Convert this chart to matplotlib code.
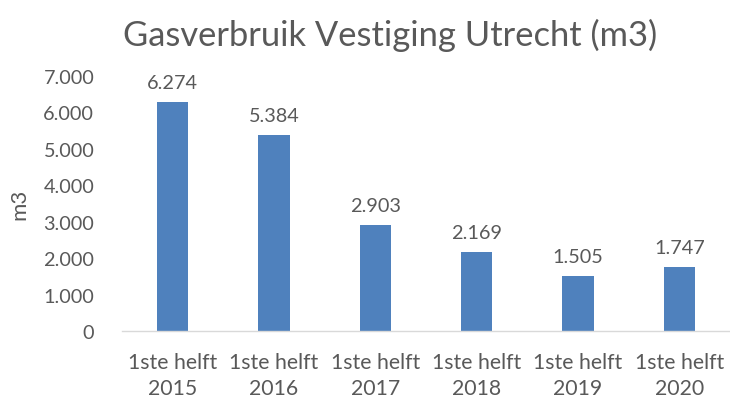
import matplotlib
import matplotlib.pyplot as plt

matplotlib.use("Agg")

CATEGORIES = ["1ste helft\n2015", "1ste helft\n2016", "1ste helft\n2017",
              "1ste helft\n2018", "1ste helft\n2019", "1ste helft\n2020"]
VALUES = [6274, 5384, 2903, 2169, 1505, 1747]
Y_TICKS = [0, 1000, 2000, 3000, 4000, 5000, 6000, 7000]

TEXT_COLOR = "#595959"
BAR_COLOR = "#4F81BD"


def fmt(v):
    return f"{v:,}".replace(",", ".")


def main():
    plt.rcParams["font.family"] = ["Lato", "DejaVu Sans"]
    fig = plt.figure(figsize=(7.3, 4.02), dpi=100)
    W, H = 730, 402
    left, right, bottom, top = 122, 730, 332, 77
    ax = fig.add_axes([left / W, 1 - bottom / H, (right - left) / W, (bottom - top) / H])

    x = range(len(CATEGORIES))
    bars = ax.bar(x, VALUES, width=0.31, color=BAR_COLOR, zorder=2)
    ax.set_xlim(-0.5, len(CATEGORIES) - 0.5)
    ax.set_ylim(0, 7000)

    for rect, v in zip(bars, VALUES):
        ax.annotate(fmt(v), (rect.get_x() + rect.get_width() / 2, v),
                    xytext=(0, 8), textcoords="offset points",
                    ha="center", va="bottom", fontsize=14.3, color=TEXT_COLOR)

    ax.set_yticks(Y_TICKS)
    ax.set_yticklabels([fmt(t) for t in Y_TICKS], fontsize=14.3, color=TEXT_COLOR)
    ax.set_xticks(list(x))
    ax.set_xticklabels(CATEGORIES, fontsize=15.3, color=TEXT_COLOR, linespacing=1.38)
    ax.tick_params(axis="both", length=0)
    ax.tick_params(axis="x", pad=15)
    ax.tick_params(axis="y", pad=20)

    for side in ["top", "right", "left"]:
        ax.spines[side].set_visible(False)
    ax.spines["bottom"].set_color("#D9D9D9")
    ax.spines["bottom"].set_linewidth(1.0)

    ax.set_ylabel("m3", fontsize=16, color=TEXT_COLOR, labelpad=10)
    fig.text(390 / W, 1 - 35 / H, "Gasverbruik Vestiging Utrecht (m3)",
             ha="center", va="center", fontsize=24.8, color=TEXT_COLOR)

    fig.savefig("out.png", dpi=100)
    plt.close(fig)


if __name__ == "__main__":
    main()
